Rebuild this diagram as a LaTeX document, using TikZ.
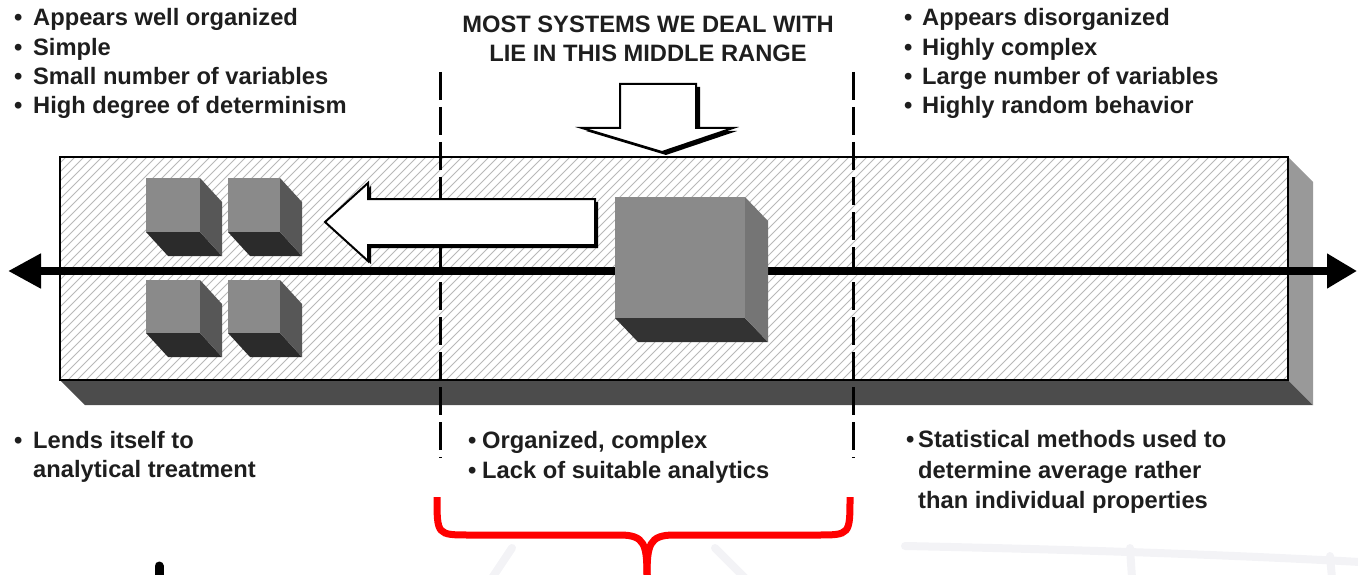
\documentclass[tikz,border=0pt]{standalone}
\usepackage{fontspec}
\setmainfont{Liberation Sans}
\usetikzlibrary{arrows.meta}
\definecolor{txt}{HTML}{1E1E1E}
\definecolor{wmark}{HTML}{F3F3F6}
\newcommand{\drawcube}[9]{%
  \fill[#7] (#1,#2+#4) -- (#1+#8,#2+#4+#9) -- (#1+#3+#8,#2+#4+#9) -- (#1+#3,#2+#4) -- cycle;
  \fill[#6] (#1+#3,#2) -- (#1+#3+#8,#2+#9) -- (#1+#3+#8,#2+#4+#9) -- (#1+#3,#2+#4) -- cycle;
  \fill[#5] (#1,#2) rectangle ++(#3,#4);}
\begin{document}
\begin{tikzpicture}[x=1pt,y=-1pt,
  lbl/.style={anchor=base west, inner sep=0, text=txt, font=\fontsize{23.7}{29}\selectfont\bfseries},
  ctr/.style={anchor=base, inner sep=0, text=txt, font=\fontsize{23.7}{29}\selectfont\bfseries},
  hatch/.style={draw=black!28, line width=1},
  dashline/.style={line width=3, dash pattern=on 28pt off 7pt},
  blockarrow/.style={fill=white, draw=black, line width=2, line join=miter},
  wm/.style={draw=wmark, line width=8, line cap=round}]
\useasboundingbox (0,0) rectangle (1358,575);
% faint watermark
\draw[wm] (492,578) -- (512,548);
\draw[wm] (715,548) -- (745,578);
\draw[wm] (905,546) .. controls (1100,550) and (1250,556) .. (1360,562);
\draw[wm] (1130,548) -- (1132,578);
\draw[wm] (1330,556) -- (1332,578);
% bar shadow faces
\fill[black!70] (60,380) -- (85,405) -- (1313,405) -- (1288,380) -- cycle;
\fill[black!40] (1288,157) -- (1313,182) -- (1313,405) -- (1288,380) -- cycle;
% bar
\node[fill=white, minimum width=1228pt, minimum height=223pt, inner sep=0, outer sep=0] (bar) at (674,268.5) {};
\begin{scope}
  \clip (bar.south west) rectangle (bar.north east);
  \foreach \i in {-240,-231,...,1300} \draw[hatch] (\i,382) -- ++(245,-245);
\end{scope}
\draw[line width=2] (bar.south west) rectangle (bar.north east);
% dashed dividers
\coordinate (d1t) at (440,72);
\coordinate (d1b) at (440,458);
\coordinate (d2t) at (853,72);
\coordinate (d2b) at (853,458);
\draw[dashline] (d1t) -- (d1b);
\draw[dashline] (d2t) -- (d2b);
% axis arrow
\coordinate (axL) at (8,271);
\coordinate (axR) at (1357,271);
\draw[line width=8, {Triangle[length=33pt,width=33pt]}-{Triangle[length=30pt,width=33pt]}] (axL) -- (axR);
% small cubes
\drawcube{146}{178}{54}{54}{black!46}{black!66}{black!83}{22}{24}
\drawcube{228}{178}{52}{54}{black!46}{black!66}{black!83}{22}{24}
\drawcube{146}{280}{54}{53}{black!46}{black!66}{black!83}{22}{24}
\drawcube{228}{280}{52}{53}{black!46}{black!66}{black!83}{22}{24}
% big cube
\drawcube{615}{197}{130}{121}{black!46}{black!54}{black!80}{23}{24}
% left block arrow
\fill[black, shift={(3,3)}] (325,222) -- (368,183) -- (368,199) -- (595,199) -- (595,245) -- (368,245) -- (368,261) -- cycle;
\draw[blockarrow] (325,222) -- (368,183) -- (368,199) -- (595,199) -- (595,245) -- (368,245) -- (368,261) -- cycle;
% down block arrow
\fill[black, shift={(4,3)}] (620,84) -- (696,84) -- (696,128) -- (733,128) -- (662,152) -- (582,128) -- (620,128) -- cycle;
\draw[blockarrow] (620,84) -- (696,84) -- (696,128) -- (733,128) -- (662,152) -- (582,128) -- (620,128) -- cycle;
% red brace
\coordinate (brL) at (437,497);
\coordinate (brR) at (850,497);
\coordinate (brM) at (647,577);
\draw[red, line width=7] (brL) .. controls (437,535) and (437,535) .. (470,535) -- (620,535) .. controls (645,535) and (647,545) .. (brM);
\draw[red, line width=7] (brR) .. controls (850,535) and (850,535) .. (817,535) -- (674,535) .. controls (649,535) and (647,545) .. (brM);
% small black mark
\draw[line width=9, line cap=round] (159,566) -- (159,580);
% texts top left
\node[lbl] (tl1) at (14,26) {\makebox[19pt][l]{•}Appears well organized};
\node[lbl] (tl2) at (14,55.5) {\makebox[19pt][l]{•}Simple};
\node[lbl] (tl3) at (14,85) {\makebox[19pt][l]{•}Small number of variables};
\node[lbl] (tl4) at (14,114) {\makebox[19pt][l]{•}High degree of determinism};
% top middle
\node[ctr] (tm1) at (648,33) {MOST SYSTEMS WE DEAL WITH};
\node[ctr] (tm2) at (648,62) {LIE IN THIS MIDDLE RANGE};
% top right
\node[lbl] (tr1) at (904,26) {\makebox[18pt][l]{•}Appears disorganized};
\node[lbl] (tr2) at (904,55.5) {\makebox[18pt][l]{•}Highly complex};
\node[lbl] (tr3) at (904,85) {\makebox[18pt][l]{•}Large number of variables};
\node[lbl] (tr4) at (904,114) {\makebox[18pt][l]{•}Highly random behavior};
% bottom left
\node[lbl] (bl1) at (14,448) {\makebox[19pt][l]{•}Lends itself to};
\node[lbl] (bl2) at (33,477) {analytical treatment};
% bottom middle
\node[lbl] (bm1) at (468,448) {\makebox[14pt][l]{•}Organized, complex};
\node[lbl] (bm2) at (468,478) {\makebox[14pt][l]{•}Lack of suitable analytics};
% bottom right
\node[lbl] (br1) at (906,447) {\makebox[12pt][l]{•}Statistical methods used to};
\node[lbl] (br2) at (918,478) {determine average rather};
\node[lbl] (br3) at (918,508) {than individual properties};
\end{tikzpicture}
\end{document}
